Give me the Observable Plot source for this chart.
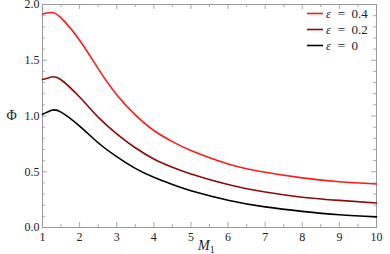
<!DOCTYPE html>
<html><head><meta charset="utf-8">
<script src="https://cdn.jsdelivr.net/npm/d3@7"></script>
<script src="https://cdn.jsdelivr.net/npm/@observablehq/plot@0.6"></script>
<style>
body{margin:0;background:#fff;}
#wrap{position:relative;width:390px;height:254px;}
svg text, svg tspan{font-family:"Liberation Serif","DejaVu Serif",serif !important;}
</style>
</head><body>
<div id="wrap"></div>
<script>
const series = ["ε = 0.4", "ε = 0.2", "ε = 0"];
const colors = ["#ff1a1a", "#8b0a0a", "#000000"];
const mGrid = [1, 1.25, 1.5, 2, 2.5, 3, 3.5, 4, 4.5, 5, 6, 7, 8, 9, 10];
const phi04 = [1.915, 1.928, 1.88, 1.68, 1.425, 1.19, 1.01, 0.87, 0.77, 0.69, 0.57, 0.495, 0.445, 0.41, 0.39];
const phi02 = [1.327, 1.35, 1.325, 1.17, 0.99, 0.84, 0.715, 0.615, 0.54, 0.48, 0.385, 0.318, 0.272, 0.243, 0.22];
const phi00 = [1.015, 1.052, 1.035, 0.91, 0.76, 0.635, 0.53, 0.45, 0.385, 0.33, 0.245, 0.185, 0.145, 0.115, 0.095];
const xTicks = [1,2,3,4,5,6,7,8,9,10];
const yTicks = [0.0, 0.5, 1.0, 1.5, 2.0];

const phis = [phi04, phi02, phi00];
const data = [];
series.forEach((s, i) => mGrid.forEach((m, j) => data.push({series: s, M: m, phi: phis[i][j]})));

const xMinor = d3.range(1, 10.001, 0.5);
const yMinor = d3.range(0, 2.001, 0.1);
const xTL = 0.045, yTL = 0.13;
const tickColor = "#aaa";

const plot = Plot.plot({
  width: 390, height: 254,
  marginLeft: 42, marginRight: 14, marginTop: 4, marginBottom: 27,
  x: {domain: [1, 10]},
  y: {domain: [0, 2]},
  style: {fontSize: "12px", background: "#fff", fontFamily: "Liberation Serif, DejaVu Serif, serif"},
  marks: [
    Plot.ruleX(xMinor, {x: d => d, y1: 0, y2: d => Number.isInteger(d) ? xTL : xTL*0.6, stroke: tickColor}),
    Plot.ruleX(xMinor, {x: d => d, y1: 2, y2: d => 2 - (Number.isInteger(d) ? xTL : xTL*0.6), stroke: tickColor}),
    Plot.ruleY(yMinor, {y: d => d, x1: 1, x2: (d, i) => 1 + (i % 5 === 0 ? yTL : yTL*0.6), stroke: tickColor}),
    Plot.ruleY(yMinor, {y: d => d, x1: 10, x2: (d, i) => 10 - (i % 5 === 0 ? yTL : yTL*0.6), stroke: tickColor}),
    Plot.frame({stroke: "#999"}),
    Plot.axisX(xTicks, {tickSize: 0, tickPadding: 5, label: null, fill: "#222", fontSize: 12, tickFormat: d => String(d)}),
    Plot.axisY(yTicks, {tickSize: 0, tickPadding: 3, label: null, fill: "#222", fontSize: 12, tickFormat: d3.format(".1f")}),
    Plot.line(data, {x: "M", y: "phi", z: "series", stroke: d => colors[series.indexOf(d.series)], strokeWidth: 1.6, curve: "natural"})
  ]
});
const wrap = document.getElementById("wrap");
wrap.appendChild(plot);

const ns = "http://www.w3.org/2000/svg";
const ov = document.createElementNS(ns, "svg");
ov.setAttribute("width", 390); ov.setAttribute("height", 254);
ov.style.position = "absolute"; ov.style.left = "0"; ov.style.top = "0";
function txt(x, y, html, size, anchor) {
  const t = document.createElementNS(ns, "text");
  t.setAttribute("x", x); t.setAttribute("y", y);
  t.setAttribute("font-size", size);
  t.setAttribute("fill", "#222");
  t.setAttribute("text-anchor", anchor || "start");
  t.innerHTML = html; ov.appendChild(t); return t;
}
txt(11.5, 120, "Φ", 14, "middle");
txt(198, 250, '<tspan font-style="italic">M</tspan><tspan font-size="10" dy="3">1</tspan>', 14, "start");
series.forEach((s, i) => {
  const y = 13.5 + 16 * i;
  const l = document.createElementNS(ns, "line");
  l.setAttribute("x1", 307); l.setAttribute("x2", 323);
  l.setAttribute("y1", y); l.setAttribute("y2", y);
  l.setAttribute("stroke", colors[i]); l.setAttribute("stroke-width", 1.6);
  ov.appendChild(l);
  const val = s.split("= ")[1];
  txt(326, y + 4.5, '<tspan font-style="italic">ε</tspan>\u2002=\u2002' + val, 13, "start");
});
wrap.appendChild(ov);
</script>
</body></html>
